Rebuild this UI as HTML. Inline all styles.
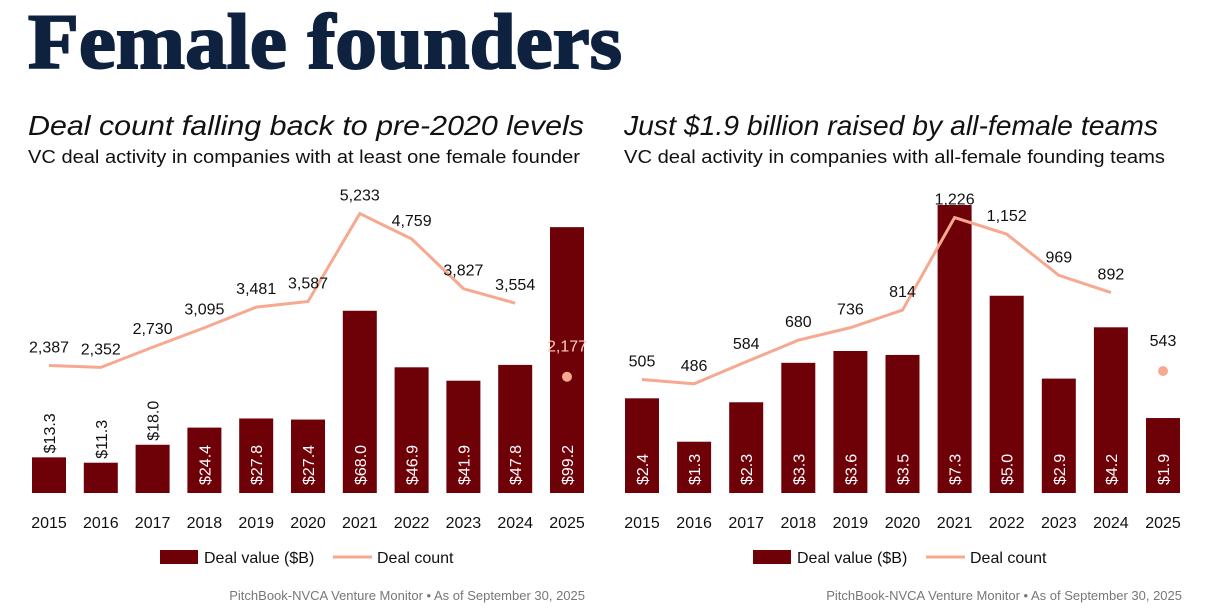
<!DOCTYPE html>
<html><head><meta charset="utf-8"><style>
body{margin:0;background:#fff;width:1206px;height:614px;overflow:hidden}
svg{display:block}
</style></head><body>
<svg id="s" width="1206" height="614" xmlns="http://www.w3.org/2000/svg" font-family="'Liberation Sans', sans-serif">
<text x="28" y="68" font-family="'Liberation Serif', serif" font-weight="bold" font-size="78" fill="#0e2240" stroke="#0e2240" stroke-width="2" textLength="594" lengthAdjust="spacingAndGlyphs">Female founders</text>
<text x="28" y="135" font-style="italic" font-size="28" fill="#111" textLength="556" lengthAdjust="spacingAndGlyphs">Deal count falling back to pre-2020 levels</text>
<text x="28" y="163" font-size="18.5" fill="#111" textLength="552" lengthAdjust="spacingAndGlyphs">VC deal activity in companies with at least one female founder</text>
<text x="624" y="135" font-style="italic" font-size="28" fill="#111" textLength="534" lengthAdjust="spacingAndGlyphs">Just $1.9 billion raised by all-female teams</text>
<text x="624" y="163" font-size="18.5" fill="#111" textLength="541" lengthAdjust="spacingAndGlyphs">VC deal activity in companies with all-female founding teams</text>
<text x="585" y="600" text-anchor="end" font-size="13" fill="#777">PitchBook-NVCA Venture Monitor  •  As of September 30, 2025</text>
<text x="1182" y="600" text-anchor="end" font-size="13" fill="#777">PitchBook-NVCA Venture Monitor  •  As of September 30, 2025</text>
<g id="L"></g><g id="R"></g>
</svg>
<script>
const years=["2015","2016","2017","2018","2019","2020","2021","2022","2023","2024","2025"];
const leftValues=[13.3,11.3,18.0,24.4,27.8,27.4,68.0,46.9,41.9,47.8,99.2];
const leftCounts=[2387,2352,2730,3095,3481,3587,5233,4759,3827,3554,2177];
const rightValues=[2.4,1.3,2.3,3.3,3.6,3.5,7.3,5.0,2.9,4.2,1.9];
const rightCounts=[505,486,584,680,736,814,1226,1152,969,892,543];
const NS="http://www.w3.org/2000/svg";
function mk(p,t,a){const e=document.createElementNS(NS,t);for(const k in a)e.setAttribute(k,a[k]);p.appendChild(e);return e;}
function chart(g,x0,step,vals,counts,vScale,cScale,side,outsideMax){
  const base=493,bw=34;
  const xs=i=>x0+i*step, yv=v=>base-v*vScale, yc=c=>base-c*cScale;
  vals.forEach((v,i)=>{
    const r=mk(g,'rect',{x:xs(i)-bw/2,y:yv(v),width:bw,height:base-yv(v),fill:'#6e0008'});
    
    
    const lbl='$'+v.toFixed(1);
    const out=i<outsideMax;
    const ty=out?yv(v)-4:base-8;
    const t=mk(g,'text',{x:0,y:0,transform:`translate(${xs(i)+6},${ty}) rotate(-90)`,'font-size':16,fill:out?'#111':'#fff'});
    t.textContent=lbl;
    
    
    const yl=mk(g,'text',{x:xs(i),y:528,'text-anchor':'middle','font-size':16,fill:'#111'});
    yl.textContent=years[i];
    
    
  });
  const n=counts.length-1;
  const pts=counts.slice(0,n).map((c,i)=>xs(i)+','+yc(c)).join(' ');
  const pl=mk(g,'polyline',{points:pts,fill:'none',stroke:'#f7a890','stroke-width':3});
  
  
  const d=mk(g,'circle',{cx:xs(n),cy:yc(counts[n]),r:5,fill:'#f7a890'});
  
  
  counts.forEach((c,i)=>{
    const t=mk(g,'text',{x:xs(i),y:yc(c)-(i==n?25:13),'text-anchor':'middle','font-size':16,fill:(i==n&&side=='left')?'#fbd0c4':'#111'});
    t.textContent=c.toLocaleString('en-US');
    
    
  });
  const lx=x0+111;
  const lr=mk(g,'rect',{x:lx,y:550,width:38,height:14,fill:'#6e0008'});
  
  
  const lt=mk(g,'text',{x:lx+44,y:563,'font-size':16,fill:'#111'});lt.textContent='Deal value ($B)';
  
  
  const ll=mk(g,'line',{x1:lx+173,y1:557,x2:lx+212,y2:557,stroke:'#f7a890','stroke-width':3});
  
  
  const lt2=mk(g,'text',{x:lx+217,y:563,'font-size':16,fill:'#111'});lt2.textContent='Deal count';
  
  
}
chart(document.getElementById('L'),49,51.8,leftValues,leftCounts,2.68,0.0534,'left',3);
chart(document.getElementById('R'),642,52.1,rightValues,rightCounts,39.45,0.2247,'right',0);
</script>
</body></html>
